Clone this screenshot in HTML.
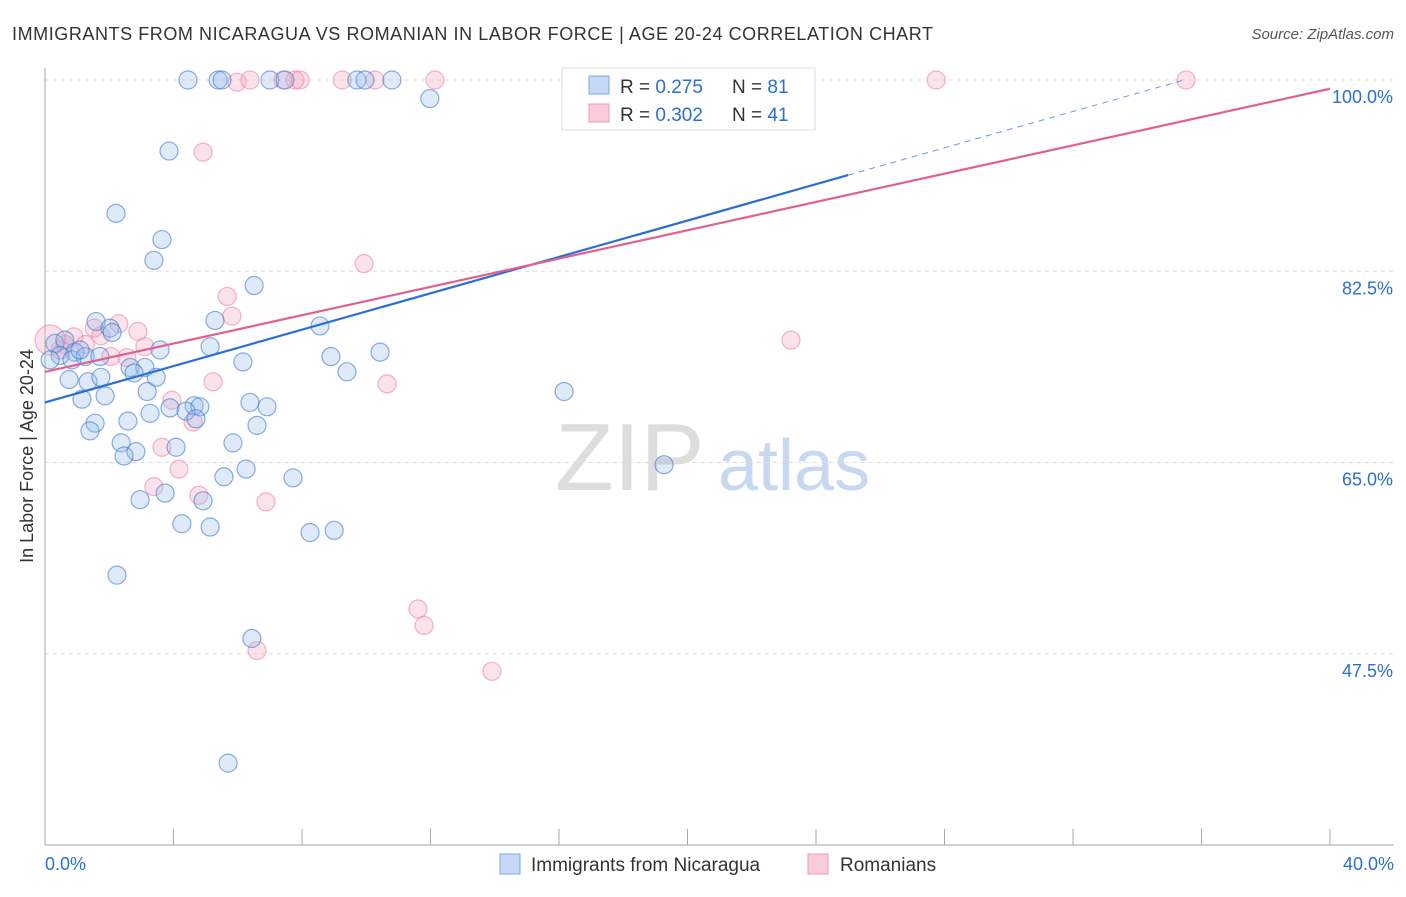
<!DOCTYPE html>
<html><head><meta charset="utf-8"><style>
body{margin:0;background:#fff;font-family:"Liberation Sans",sans-serif;}
svg text{font-family:"Liberation Sans",sans-serif;}
</style></head><body>
<svg width="1406" height="892" id="c">
<text x="12" y="40" font-size="18" fill="#333" textLength="921">IMMIGRANTS FROM NICARAGUA VS ROMANIAN IN LABOR FORCE | AGE 20-24 CORRELATION CHART</text>
<text x="1394" y="39" font-size="15" fill="#555" text-anchor="end" font-style="italic">Source: ZipAtlas.com</text>
<text x="33" y="456" font-size="18" fill="#333" text-anchor="middle" transform="rotate(-90 33 456)">In Labor Force | Age 20-24</text>
<text x="555" y="490" font-size="96" fill="#ddd" font-family="Liberation Serif">ZIP</text>
<text x="718" y="490" font-size="72" fill="#c8d8f0">atlas</text>
<g id="grid"></g><g id="pts"></g><g id="lines"></g>
<g>
<rect x="562" y="68" width="253" height="62" fill="#fff" stroke="#ddd"/>
<rect x="589" y="76" width="20" height="18" fill="#c5d8f5" stroke="#7aa7e6"/>
<text x="620" y="93" font-size="19" fill="#333">R = <tspan fill="#2b6fd6">0.275</tspan></text>
<text x="732" y="93" font-size="19" fill="#333">N = <tspan fill="#2b6fd6">81</tspan></text>
<rect x="589" y="104" width="20" height="18" fill="#f9ccd9" stroke="#ef9ab5"/>
<text x="620" y="121" font-size="19" fill="#333">R = <tspan fill="#2b6fd6">0.302</tspan></text>
<text x="732" y="121" font-size="19" fill="#333">N = <tspan fill="#2b6fd6">41</tspan></text>
</g>
<g>
<rect x="500" y="854" width="20" height="20" fill="#c5d8f5" stroke="#7aa7e6"/>
<text x="531" y="871" font-size="19" fill="#333">Immigrants from Nicaragua</text>
<rect x="808" y="854" width="20" height="20" fill="#f9ccd9" stroke="#ef9ab5"/>
<text x="840" y="871" font-size="19" fill="#333">Romanians</text>
</g>
</svg>
<script>
const blueX=[4.45,5.39,5.51,7.0,7.47,9.71,9.96,10.8,16.96,20.7,11.98,3.86,2.21,3.64,3.39,6.51,5.29,1.59,2.02,2.09,8.56,5.14,3.58,0.31,0.62,0.93,1.25,0.47,0.16,10.43,8.9,6.16,2.65,3.11,2.77,3.46,0.75,1.34,1.74,9.4,3.18,1.15,1.87,16.16,6.38,4.64,3.89,4.82,6.91,3.27,4.39,2.58,4.7,1.56,1.4,6.6,2.37,4.08,5.85,2.83,2.46,6.26,19.27,5.57,7.72,3.74,2.96,4.92,4.26,5.14,8.25,9.0,2.24,6.44,5.7,1.71,0.84,1.09];
const blueY=[100,100,100,100,100,100,100,100,100,100,98.3,93.5,87.8,85.4,83.5,81.2,78.0,77.9,77.3,76.9,77.5,75.6,75.3,75.9,76.2,75.1,74.7,74.8,74.4,75.1,74.7,74.2,73.7,73.7,73.2,72.8,72.6,72.4,72.8,73.3,71.5,70.8,71.1,71.5,70.5,70.2,70.0,70.1,70.1,69.5,69.7,68.8,69.0,68.6,67.9,68.4,66.8,66.4,66.8,66.0,65.6,64.4,64.8,63.7,63.6,62.2,61.6,61.5,59.4,59.1,58.6,58.8,54.7,48.9,37.5,74.7,74.4,75.3];
const pinkX=[5.98,6.38,7.41,7.78,7.94,9.25,10.27,12.14,22.26,27.74,35.52,4.92,9.93,5.67,5.82,2.3,1.53,2.89,1.74,0.9,3.11,0.62,2.05,2.55,5.23,10.65,3.95,4.61,3.64,4.17,3.39,4.79,6.88,11.61,11.8,6.6,13.91,23.22,1.25,0.47,0.16];
const pinkY=[99.8,100,100,100,100,100,100,100,100,100,100,93.4,83.2,80.2,78.4,77.7,77.3,77.0,76.6,76.5,75.6,75.8,74.7,74.6,72.4,72.2,70.7,68.7,66.4,64.4,62.8,62.0,61.4,51.6,50.1,47.8,45.9,76.2,75.8,75.3,76.2];
const pinkR=[9,9,9,9,9,9,9,9,9,9,9,9,9,9,9,9,9,9,9,9,9,9,9,9,9,9,9,9,9,9,9,9,9,9,9,9,9,9,9,9,15];
const yTicks=[100,82.5,65,47.5];
const yTickLabels=["100.0%","82.5%","65.0%","47.5%"];
const xTicks=[0,4,8,12,16,20,24,28,32,36,40];
const blueLine=[70.5,0.832];const pinkLine=[73.3,0.6475];
const NS="http://www.w3.org/2000/svg";
const X=v=>45+v*32.125, Y=v=>80+(100-v)*10.93;
function mk(t,a,p){const e=document.createElementNS(NS,t);for(const k in a)e.setAttribute(k,a[k]);p.appendChild(e);return e;}
const g=document.getElementById('grid');
yTicks.forEach((t,i)=>{const l=mk('line',{x1:45,x2:1394,y1:Y(t),y2:Y(t),stroke:'#ddd','stroke-dasharray':'4,4'},g);


const tx=mk('text',{x:1393,y:Y(t)+23,'font-size':18,fill:'#2b6fd6','text-anchor':'end'},g);tx.textContent=yTickLabels[i];

});
const ax=mk('line',{x1:45,x2:45,y1:68,y2:845,stroke:'#aaa'},g);


const bx=mk('line',{x1:45,x2:1394,y1:845,y2:845,stroke:'#aaa'},g);


xTicks.forEach(t=>{const l=mk('line',{x1:X(t),x2:X(t),y1:829,y2:845,stroke:'#aaa'},g);

});
[[0,'0.0%','start',45],[40,'40.0%','end',1394]].forEach(a=>{const t=mk('text',{x:a[3],y:870,'font-size':18,fill:'#2b6fd6','text-anchor':a[2]},g);t.textContent=a[1];

});
const p=document.getElementById('pts');
pinkX.forEach((v,i)=>{const c=mk('circle',{cx:X(v),cy:Y(pinkY[i]),r:pinkR[i],fill:'rgba(244,160,185,0.3)',stroke:'rgba(236,130,165,0.6)','stroke-width':1.2},p);

});
blueX.forEach((v,i)=>{const c=mk('circle',{cx:X(v),cy:Y(blueY[i]),r:9,fill:'rgba(150,185,235,0.3)',stroke:'rgba(60,120,210,0.6)','stroke-width':1.2},p);

});
const L=document.getElementById('lines');
const b1=mk('line',{x1:X(0),y1:Y(blueLine[0]),x2:X(25),y2:Y(blueLine[0]+25*blueLine[1]),stroke:'#2b6fd6','stroke-width':2.2},L);


const b2=mk('line',{x1:X(25),y1:Y(blueLine[0]+25*blueLine[1]),x2:X(35.5),y2:Y(blueLine[0]+35.5*blueLine[1]),stroke:'#6a9ae0','stroke-width':1,'stroke-dasharray':'6,5'},L);


const pl=mk('line',{x1:X(0),y1:Y(pinkLine[0]),x2:X(40),y2:Y(pinkLine[0]+40*pinkLine[1]),stroke:'#e0628c','stroke-width':2.2},L);


</script>
</body></html>
